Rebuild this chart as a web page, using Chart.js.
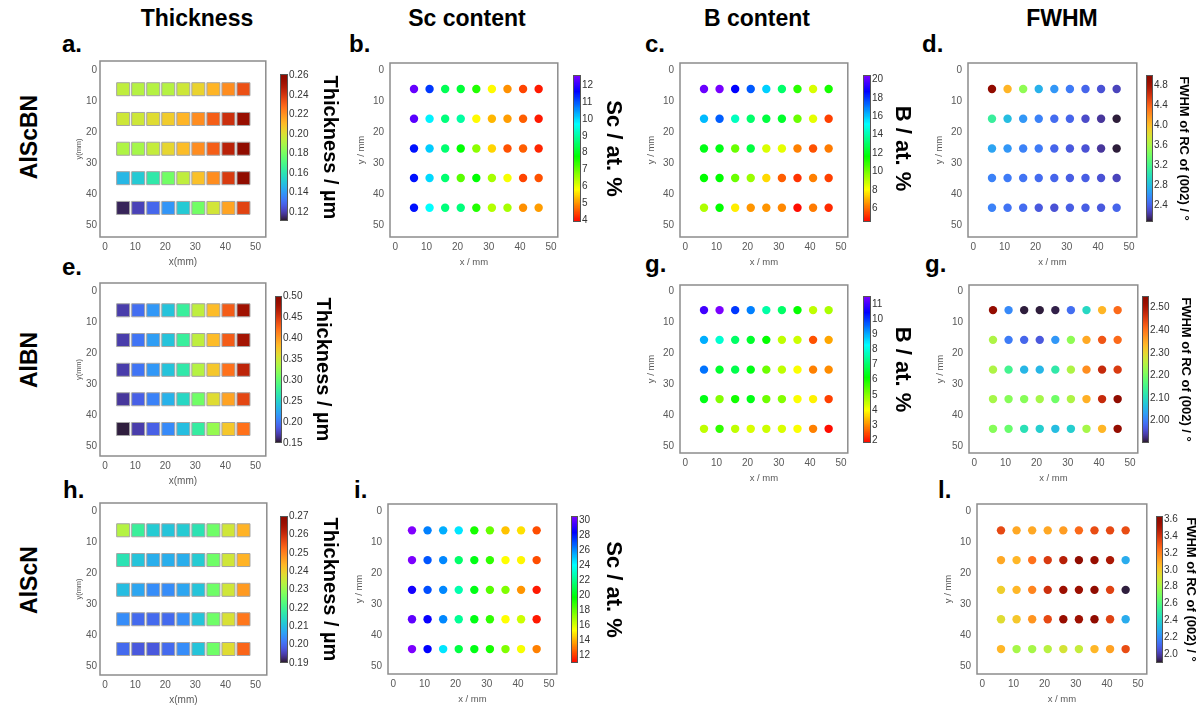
<!DOCTYPE html>
<html>
<head>
<meta charset="utf-8">
<script src="https://cdn.jsdelivr.net/npm/chart.js@4.4.1/dist/chart.umd.min.js"></script>
<style>
body { margin: 0; background: #fff; overflow: hidden; }
#fig { position: relative; width: 1199px; height: 707px; overflow: hidden; }
#fig canvas { position: absolute; }
.hd, .lt, .row { position: absolute; font-family: "Liberation Sans", Arial, sans-serif; font-weight: bold; color: #000; line-height: 1; white-space: nowrap; }
.hd { font-size: 23px; transform: translateX(-50%); }
.lt { font-size: 24px; }
.row { font-size: 23px; transform: translate(-50%, -50%) rotate(-90deg); }
</style>
</head>
<body>
<div id="fig">
  <div class="hd" style="left:197px;top:7px">Thickness</div>
  <div class="hd" style="left:467px;top:7px">Sc content</div>
  <div class="hd" style="left:757px;top:7px">B content</div>
  <div class="hd" style="left:1062px;top:7px">FWHM</div>

  <div class="lt" style="left:62px;top:32px">a.</div>
  <div class="lt" style="left:349px;top:32px">b.</div>
  <div class="lt" style="left:645px;top:32px">c.</div>
  <div class="lt" style="left:922px;top:32px">d.</div>
  <div class="lt" style="left:62px;top:255px">e.</div>
  <div class="lt" style="left:645px;top:252px">g.</div>
  <div class="lt" style="left:925px;top:252px">g.</div>
  <div class="lt" style="left:63px;top:478px">h.</div>
  <div class="lt" style="left:354px;top:478px">i.</div>
  <div class="lt" style="left:938px;top:478px">l.</div>

  <div class="row" style="left:29px;top:137px">AlScBN</div>
  <div class="row" style="left:29px;top:360px">AlBN</div>
  <div class="row" style="left:29px;top:580px">AlScN</div>
</div>

<script>
// positions des points (mm)
const X_POS = [6, 11, 16, 21, 26, 31, 36, 41, 46];
const Y_POS = [6.2, 15.8, 25.4, 34.9, 44.5];
const AXIS_TICKS = [0, 10, 20, 30, 40, 50];

// AlScBN
const THK_ALSCBN = [
    [0.194, 0.192, 0.192, 0.192, 0.197, 0.204, 0.212, 0.221, 0.234],
    [0.197, 0.197, 0.201, 0.206, 0.212, 0.221, 0.231, 0.242, 0.255],
    [0.191, 0.189, 0.195, 0.203, 0.210, 0.221, 0.231, 0.246, 0.260],
    [0.147, 0.152, 0.162, 0.179, 0.194, 0.209, 0.221, 0.239, 0.260],
    [0.114, 0.121, 0.129, 0.139, 0.152, 0.179, 0.198, 0.216, 0.237]
];
const SC_ALSCBN = [
    [12.4, 11.2, 8.4, 8.2, 7.5, 5.8, 5.0, 4.4, 4.1],
    [12.3, 9.8, 8.7, 9.0, 5.8, 5.3, 5.1, 4.6, 4.1],
    [11.5, 10.1, 8.6, 7.8, 6.7, 5.5, 4.5, 4.6, 4.2],
    [11.5, 10.0, 8.6, 7.1, 7.8, 6.5, 5.9, 4.4, 4.5],
    [11.5, 9.7, 8.7, 8.7, 7.5, 6.4, 6.5, 5.0, 5.1]
];
const B_ALSCBN = [
    [20.2, 20.4, 18.7, 17.5, 15.8, 13.1, 11.0, 8.6, 11.3],
    [16.1, 17.4, 14.3, 13.1, 12.5, 12.2, 10.1, 8.4, 5.4],
    [11.9, 11.9, 10.1, 12.5, 8.6, 8.4, 6.3, 5.6, 6.2],
    [11.6, 11.6, 10.1, 9.5, 7.5, 5.8, 5.2, 6.3, 5.4],
    [9.2, 11.6, 7.8, 6.6, 6.6, 6.4, 4.7, 6.2, 5.1]
];
const FWHM_ALSCBN = [
    [4.95, 4.04, 3.51, 2.74, 2.62, 2.50, 2.41, 2.33, 2.27],
    [3.12, 2.80, 2.62, 2.53, 2.44, 2.41, 2.30, 2.21, 2.09],
    [2.68, 2.62, 2.53, 2.50, 2.41, 2.36, 2.33, 2.21, 2.09],
    [2.53, 2.50, 2.47, 2.44, 2.41, 2.38, 2.38, 2.33, 2.27],
    [2.53, 2.47, 2.44, 2.36, 2.33, 2.38, 2.38, 2.36, 2.41]
];

// AlBN
const THK_ALBN = [
    [0.171, 0.196, 0.217, 0.241, 0.276, 0.343, 0.381, 0.430, 0.479],
    [0.171, 0.199, 0.220, 0.241, 0.276, 0.343, 0.381, 0.430, 0.476],
    [0.171, 0.199, 0.217, 0.241, 0.269, 0.339, 0.374, 0.420, 0.462],
    [0.168, 0.189, 0.206, 0.231, 0.255, 0.308, 0.360, 0.395, 0.441],
    [0.154, 0.171, 0.189, 0.210, 0.238, 0.273, 0.325, 0.374, 0.420]
];
const B_ALBN = [
    [11.0, 11.5, 10.0, 9.4, 7.55, 7.0, 6.1, 4.5, 4.7],
    [9.0, 7.9, 7.0, 6.5, 6.1, 4.5, 4.4, 2.5, 3.2],
    [9.5, 6.5, 6.8, 6.3, 5.2, 4.5, 4.0, 2.9, 3.0],
    [6.3, 5.0, 6.0, 6.3, 5.2, 5.0, 4.0, 3.85, 2.35],
    [4.5, 5.75, 4.5, 4.3, 4.4, 4.3, 4.0, 2.9, 1.9]
];
const FWHM_ALBN = [
    [2.532, 2.011, 1.907, 1.907, 1.910, 1.985, 2.096, 2.337, 2.409],
    [2.246, 1.998, 1.978, 1.965, 2.024, 2.219, 2.350, 2.428, 2.409],
    [2.246, 2.148, 2.056, 2.056, 2.122, 2.246, 2.376, 2.474, 2.454],
    [2.239, 2.213, 2.213, 2.239, 2.193, 2.246, 2.343, 2.474, 2.545],
    [2.213, 2.187, 2.109, 2.083, 2.063, 2.083, 2.239, 2.337, 2.532]
];

// AlScN
const THK_ALSCN = [
    [0.233, 0.219, 0.212, 0.211, 0.212, 0.216, 0.226, 0.236, 0.244],
    [0.216, 0.211, 0.208, 0.208, 0.208, 0.212, 0.226, 0.236, 0.244],
    [0.210, 0.207, 0.204, 0.204, 0.207, 0.211, 0.226, 0.236, 0.247],
    [0.204, 0.200, 0.200, 0.200, 0.204, 0.211, 0.226, 0.237, 0.251],
    [0.200, 0.198, 0.198, 0.200, 0.204, 0.211, 0.226, 0.238, 0.253]
];
const SC_ALSCN = [
    [30.5, 26.2, 25.4, 24.4, 19.3, 17.9, 14.3, 14.8, 12.3],
    [30.4, 26.9, 26.0, 21.5, 20.0, 18.9, 15.3, 15.2, 12.3],
    [28.7, 27.0, 26.0, 22.6, 20.0, 18.2, 17.5, 13.5, 11.4],
    [29.9, 28.5, 26.0, 22.2, 20.0, 18.9, 15.3, 16.2, 11.4],
    [30.4, 28.3, 24.4, 20.8, 20.0, 19.3, 17.5, 15.5, 13.2]
];
const FWHM_ALSCN = [
    [3.34, 3.10, 3.10, 3.10, 3.13, 3.26, 3.33, 3.34, 3.33],
    [3.10, 3.06, 3.24, 3.38, 3.47, 3.62, 3.57, 3.50, 2.28],
    [2.99, 3.06, 3.19, 3.41, 3.55, 3.55, 3.62, 3.36, 1.91],
    [2.94, 3.01, 3.15, 3.34, 3.57, 3.54, 3.62, 3.36, 2.28],
    [3.06, 2.80, 2.80, 2.84, 2.91, 2.87, 3.06, 3.12, 3.33]
];

// echelles de couleur (min, max) et graduations
const RANGE_THK_ALSCBN = [0.1108, 0.2615];
const RANGE_SC_ALSCBN = [3.9, 12.6];
const RANGE_B_ALSCBN = [4.5, 20.5];
const RANGE_FWHM_ALSCBN = [2.06, 5.01];
const RANGE_THK_ALBN = [0.15, 0.50];
const RANGE_B_ALBN = [1.8, 11.55];
const RANGE_FWHM_ALBN = [1.9, 2.552];
const RANGE_THK_ALSCN = [0.19, 0.27];
const RANGE_SC_ALSCN = [11, 30.5];
const RANGE_FWHM_ALSCN = [1.89, 3.64];

const TICKS_THK_ALSCBN = [0.12, 0.14, 0.16, 0.18, 0.20, 0.22, 0.24, 0.26];
const TICKS_SC_ALSCBN = [4, 5, 6, 7, 8, 9, 10, 11, 12];
const TICKS_B_ALSCBN = [6, 8, 10, 12, 14, 16, 18, 20];
const TICKS_FWHM_ALSCBN = [2.4, 2.8, 3.2, 3.6, 4.0, 4.4, 4.8];
const TICKS_THK_ALBN = [0.15, 0.20, 0.25, 0.30, 0.35, 0.40, 0.45, 0.50];
const TICKS_B_ALBN = [2, 3, 4, 5, 6, 7, 8, 9, 10, 11];
const TICKS_FWHM_ALBN = [2.00, 2.10, 2.20, 2.30, 2.40, 2.50];
const TICKS_THK_ALSCN = [0.19, 0.20, 0.21, 0.22, 0.23, 0.24, 0.25, 0.26, 0.27];
const TICKS_SC_ALSCN = [12, 14, 16, 18, 20, 22, 24, 26, 28, 30];
const TICKS_FWHM_ALSCN = [2.0, 2.2, 2.4, 2.6, 2.8, 3.0, 3.2, 3.4, 3.6];

Chart.defaults.font.family = '"Liberation Sans", Arial, sans-serif';

//Colormaps
function turbo(t) {
    t = Math.min(1, Math.max(0, t));
    const r = 0.13572138 + t * (4.61539260 + t * (-42.66032258 + t * (132.13108234 + t * (-152.94239396 + t * 59.28637943))));
    const g = 0.09140261 + t * (2.19418839 + t * (4.84296658 + t * (-14.18503333 + t * (4.27729857 + t * 2.82956604))));
    const b = 0.10667330 + t * (12.64194608 + t * (-60.58204836 + t * (110.36276771 + t * (-89.90310912 + t * 27.34824973))));
    const c = x => Math.round(255 * Math.min(1, Math.max(0, x)));
    return `rgb(${c(r)},${c(g)},${c(b)})`;
}
function rainbow(t) {
    t = Math.min(1, Math.max(0, t));
    return `hsl(${Math.round(270 * t)},100%,50%)`;
}
function colorOf(p, v) {
    const t = (v - p.range[0]) / (p.range[1] - p.range[0]);
    return p.cmap === "turbo" ? turbo(t) : rainbow(t);
}

// box = [gauche, haut, largeur, hauteur] de la zone du graphe, cb = [gauche, haut, bas, largeur] de la barre
const PANELS = [
    {vals: THK_ALSCBN, range: RANGE_THK_ALSCBN, ticks: TICKS_THK_ALSCBN, dec: 2, cmap: "turbo", square: true,
     box: [100, 61, 172, 176], ymin: -2.9, cb: [280, 74, 221, 8], title: "Thickness / µm", titleX: 330, fs: 20},
    {vals: SC_ALSCBN, range: RANGE_SC_ALSCBN, ticks: TICKS_SC_ALSCBN, dec: 0, cmap: "rainbow", square: false,
     box: [390, 63, 168, 174], ymin: -2.2, cb: [573, 75, 222, 8], title: "Sc / at. %", titleX: 613, fs: 22},
    {vals: B_ALSCBN, range: RANGE_B_ALSCBN, ticks: TICKS_B_ALSCBN, dec: 0, cmap: "rainbow", square: false,
     box: [680, 63, 168, 174], ymin: -2.2, cb: [863, 75, 222, 8], title: "B / at. %", titleX: 902, fs: 22},
    {vals: FWHM_ALSCBN, range: RANGE_FWHM_ALSCBN, ticks: TICKS_FWHM_ALSCBN, dec: 1, cmap: "turbo", square: false,
     box: [968, 63, 169, 174], ymin: -2.2, cb: [1146, 75, 222, 7], title: "FWHM of RC of (002) / °", titleX: 1183, fs: 13},

    {vals: THK_ALBN, range: RANGE_THK_ALBN, ticks: TICKS_THK_ALBN, dec: 2, cmap: "turbo", square: true,
     box: [100, 283, 172, 173], ymin: -2.6, cb: [275, 296, 443, 7], title: "Thickness / µm", titleX: 323, fs: 20},
    {vals: B_ALBN, range: RANGE_B_ALBN, ticks: TICKS_B_ALBN, dec: 0, cmap: "rainbow", square: false,
     box: [680, 285, 168, 168], ymin: -1.9, cb: [863, 296, 443, 8], title: "B / at. %", titleX: 902, fs: 22},
    {vals: FWHM_ALBN, range: RANGE_FWHM_ALBN, ticks: TICKS_FWHM_ALBN, dec: 2, cmap: "turbo", square: false,
     box: [969, 285, 169, 168], ymin: -1.9, cb: [1142, 296, 443, 7], title: "FWHM of RC of (002) / °", titleX: 1185, fs: 13},

    {vals: THK_ALSCN, range: RANGE_THK_ALSCN, ticks: TICKS_THK_ALSCN, dec: 2, cmap: "turbo", square: true,
     box: [100, 503, 173, 172], ymin: -2.6, cb: [280, 516, 663, 8], title: "Thickness / µm", titleX: 330, fs: 20},
    {vals: SC_ALSCN, range: RANGE_SC_ALSCN, ticks: TICKS_SC_ALSCN, dec: 0, cmap: "rainbow", square: false,
     box: [388, 504, 169, 170], ymin: -2.3, cb: [571, 516, 663, 7], title: "Sc / at. %", titleX: 613, fs: 22},
    {vals: FWHM_ALSCN, range: RANGE_FWHM_ALSCN, ticks: TICKS_FWHM_ALSCN, dec: 1, cmap: "turbo", square: false,
     box: [977, 504, 170, 170], ymin: -2.3, cb: [1156, 516, 663, 7], title: "FWHM of RC of (002) / °", titleX: 1190, fs: 13}
];

function addCanvas(left, top, w, h) {
    const cv = document.createElement("canvas");
    cv.width = w;
    cv.height = h;
    cv.style.left = left + "px";
    cv.style.top = top + "px";
    document.getElementById("fig").appendChild(cv);
    return cv;
}

// cadre gris autour de la zone de tracé
const boxPlugin = {
    id: "box",
    beforeDatasetsDraw(chart) {
        const a = chart.chartArea, ctx = chart.ctx;
        ctx.save();
        ctx.strokeStyle = "#8c8c8c";
        ctx.lineWidth = 1.5;
        ctx.strokeRect(a.left, a.top, a.right - a.left, a.bottom - a.top);
        ctx.restore();
    }
};

function drawMap(p) {
    const [L, T, W, H] = p.box;
    const yw = p.square ? 28 : 36;
    const xh = 31;
    const pad = 14; // marge haute > demi-hauteur des etiquettes
    const cv = addCanvas(L - yw, T - pad, yw + W + 4, H + pad + xh);

    const pts = [];
    p.vals.forEach((row, j) => row.forEach((v, i) => pts.push({x: X_POS[i], y: Y_POS[j], v: v})));

    const tickFont = {size: 10};
    new Chart(cv, {
        type: "scatter",
        data: {
            datasets: [{
                data: pts,
                pointStyle: p.square ? "rect" : "circle",
                pointRadius: p.square ? 9.2 : 4.2,
                borderWidth: p.square ? 1 : 0,
                borderColor: "#a6a6a6",
                backgroundColor: pts.map(pt => colorOf(p, pt.v))
            }]
        },
        options: {
            responsive: false,
            animation: false,
            events: [],
            layout: {padding: {left: 0, top: pad, right: 4, bottom: 0}},
            plugins: {legend: {display: false}, tooltip: {enabled: false}},
            scales: {
                x: {
                    type: "linear", min: -1.7, max: -1.7 + W / 3.12,
                    afterBuildTicks: s => { s.ticks = AXIS_TICKS.map(v => ({value: v})); },
                    afterFit: s => { s.height = xh; },
                    grid: {display: false, drawTicks: false},
                    border: {display: false},
                    ticks: {autoSkip: false, padding: 4, color: "#595959", font: tickFont},
                    title: {display: true, text: p.square ? "x(mm)" : "x / mm", color: "#595959",
                            font: {size: p.square ? 10 : 9.5}, padding: 0}
                },
                y: {
                    type: "linear", reverse: true, min: p.ymin, max: p.ymin + H / 3.1,
                    afterBuildTicks: s => { s.ticks = AXIS_TICKS.map(v => ({value: v})); },
                    afterFit: s => { s.width = yw; },
                    grid: {display: false, drawTicks: false},
                    border: {display: false},
                    ticks: {autoSkip: false, padding: p.square ? 3 : 6, color: "#595959", font: tickFont},
                    title: {display: true, text: p.square ? "y(mm)" : "y / mm", color: "#595959",
                            font: {size: p.square ? 7.5 : 9.5}, padding: {top: 2, bottom: 0}}
                }
            }
        },
        plugins: [boxPlugin]
    });
}

function drawColorbar(p) {
    const [bl, bt, bb, bw] = p.cb;
    const lh = p.fs * 1.2, pad = 14;
    const w = Math.round(p.titleX + lh / 2 - bl);
    const cv = addCanvas(bl, bt - pad, w, bb - bt + 2 * pad);

    new Chart(cv, {
        type: "scatter",
        data: {datasets: []},
        options: {
            responsive: false,
            animation: false,
            events: [],
            layout: {padding: {left: 0, right: 0, top: pad, bottom: pad}},
            plugins: {legend: {display: false}, tooltip: {enabled: false}},
            scales: {
                x: {display: false},
                y: {
                    position: "right", min: p.range[0], max: p.range[1],
                    afterBuildTicks: s => { s.ticks = p.ticks.map(v => ({value: v})); },
                    afterFit: s => { s.width = w - bw; },
                    grid: {display: false, drawTicks: false},
                    border: {display: false},
                    ticks: {autoSkip: false, padding: 1, color: "#333", font: {size: 10},
                            callback: v => v.toFixed(p.dec)},
                    title: {display: true, text: p.title, color: "#000",
                            font: {size: p.fs, weight: "bold"}, padding: 0}
                }
            }
        },
        plugins: [{
            id: "cbar",
            beforeDatasetsDraw(chart) {
                const a = chart.chartArea, ctx = chart.ctx, ys = chart.scales.y;
                ctx.save();
                for (let py = Math.floor(a.top); py < a.bottom; py++) {
                    ctx.fillStyle = colorOf(p, ys.getValueForPixel(py + 0.5));
                    ctx.fillRect(a.left, py, a.right - a.left, 1);
                }
                ctx.strokeStyle = "#555";
                ctx.lineWidth = 1;
                ctx.strokeRect(a.left + 0.5, a.top + 0.5, a.right - a.left - 1, a.bottom - a.top - 1);
                ctx.restore();
            }
        }]
    });
}

PANELS.forEach(p => {
    drawMap(p);
    drawColorbar(p);
});
</script>
</body>
</html>
